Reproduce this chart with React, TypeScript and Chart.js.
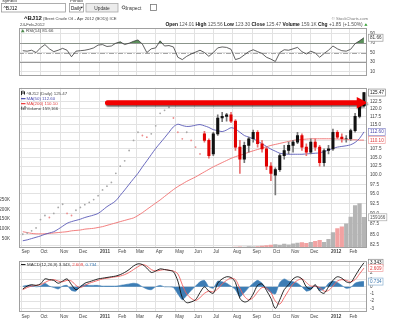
import React, { useEffect, useRef } from "react";
import { Chart, registerables } from "chart.js";
Chart.register(...registerables);

// ---------------- DATA ----------------
const AXIS_START = "2010-09-01";
const FIRST_WEEK = "2010-09-03";
const CANDLE_START_WEEK = 41;

const MONTH_TICKS: [string, string][] = [
  ["2010-09-01", "Sep"], ["2010-10-01", "Oct"], ["2010-11-01", "Nov"], ["2010-12-01", "Dec"],
  ["2011-01-03", "2011"], ["2011-02-01", "Feb"], ["2011-03-01", "Mar"], ["2011-04-01", "Apr"],
  ["2011-05-02", "May"], ["2011-06-01", "Jun"], ["2011-07-01", "Jul"], ["2011-08-01", "Aug"],
  ["2011-09-01", "Sep"], ["2011-10-03", "Oct"], ["2011-11-01", "Nov"], ["2011-12-01", "Dec"],
  ["2012-01-03", "2012"], ["2012-02-01", "Feb"],
];

// thinly traded period: weekly closes (dots)
const EARLY_CLOSE = [
  85.0, 85.3, 85.8, 86.5, 88.5, 89.5, 89.0, 90.0, 91.5, 92.3,
  90.0, 89.5, 90.8, 91.5, 92.2, 92.8, 93.5, 94.5, 96.0, 97.0,
  98.0, 100.5, 102.5, 104.0, 107.0, 110.0, 112.5, 111.5, 111.0, 112.0,
  114.5, 118.5, 119.5, 120.5, 117.0, 112.5, 110.5, 112.5, 110.0, 108.0, 106.0,
];

// weekly candles from week 41 on
const CANDLE_OPEN = [112, 110, 106, 112, 117, 117.5, 118, 116, 108, 104.5, 108.5, 110.5, 112.5, 109, 107.5, 102.5, 100, 101.5, 105.5, 107, 108.5, 109.5, 111.5, 108, 106.5, 109.5, 108, 103.5, 107, 107.5, 112.5, 111, 110.5, 110.5, 113, 117.5, 121];
const CANDLE_HIGH = [112.8, 110.5, 112.5, 118, 118.8, 118.5, 118.8, 116.5, 110, 109.5, 111, 113.2, 113, 110, 108, 103.5, 102, 106, 108.5, 109.5, 110, 112.5, 112, 109, 110.5, 110.5, 108.5, 107.5, 108.5, 113.5, 113, 112, 111.5, 113.5, 118.5, 121.5, 125.56];
const CANDLE_LOW = [109.5, 104.8, 105.5, 111.5, 115.8, 116, 115.5, 107, 100.5, 103.5, 106.5, 109.5, 108, 106.5, 101.5, 98.5, 94.7, 101, 104.5, 106, 106.5, 109, 107, 105.5, 106, 107, 102.5, 102.5, 106, 107, 110.5, 109.5, 109.5, 110, 112.5, 117, 120.5];
const CANDLE_CLOSE = [110, 105.5, 112, 117, 117.5, 118, 116, 108, 104.5, 108.5, 110.5, 112.5, 109, 107.5, 102.5, 100.5, 101.5, 105.5, 107, 108.5, 109.5, 111.5, 108, 106.5, 109.5, 108, 103.5, 107, 107.5, 112.5, 111, 110.5, 110.5, 113, 117.5, 121, 125.47];

// volume in thousands
const VOLUME_K = [
  2, 1, 2, 1, 3, 2, 1, 2, 2, 1, 2, 3, 1, 2, 2, 1, 2, 2, 3, 1,
  2, 2, 1, 3, 2, 2, 1, 2, 3, 2, 2, 1, 2, 2, 3, 2, 1, 2, 2, 3, 2,
  2, 3, 3, 3, 4, 3, 4, 5, 6, 5, 7, 6, 8, 10, 12, 15, 18, 15, 20, 17,
  22, 25, 28, 24, 30, 35, 40, 30, 45, 80, 100, 110, 125, 160, 220, 230, 159.166,
];

const MA50 = [
  83.5, 83.7, 84.0, 84.3, 84.6, 85.0, 85.3, 85.6, 86.2, 86.9,
  87.6, 88.0, 88.3, 88.6, 89.0, 89.3, 89.6, 90.0, 90.8, 91.7,
  92.4, 93.2, 94.6, 96.0, 97.5, 99.0, 100.5, 102.3, 104.0, 105.8,
  107.6, 109.2, 110.8, 112.5, 114.2, 115.0, 114.6, 114.3, 114.4, 114.7,
  114.9, 114.5, 114.0, 113.3, 113.0, 112.7, 113.2, 113.9, 113.5, 112.5,
  111.5, 111.0, 110.5, 109.8, 109.0, 108.2, 107.4, 106.8, 106.2, 106.0,
  105.9, 105.9, 105.9, 105.9, 106.0, 106.1, 106.2, 106.3, 106.7, 107.1,
  107.6, 108.0, 108.2, 108.4, 108.7, 109.4, 110.6, 112.6,
];

const MA200 = [
  85.6, 85.4, 85.2, 85.1, 85.1, 85.1, 85.2, 85.3, 85.4, 85.5,
  85.6, 85.8, 85.9, 86.0, 86.2, 86.3, 86.4, 86.6, 86.8, 87.1,
  87.4, 87.7, 88.0, 88.3, 88.6, 88.9, 89.5, 90.2, 91.0, 91.8,
  92.6, 93.4, 94.3, 95.2, 96.1, 96.9, 97.6, 98.3, 98.9, 99.5,
  100.2, 100.9, 101.6, 102.3, 102.9, 103.5, 104.1, 104.7, 105.2, 105.6,
  106.0, 106.5, 106.9, 107.3, 107.7, 108.1, 108.5, 108.8, 109.1, 109.4,
  109.7, 110.0, 110.2, 110.3, 110.4, 110.5, 110.5, 110.5, 110.5, 110.5,
  110.5, 110.4, 110.4, 110.3, 110.2, 110.2, 110.1, 110.1,
];

const RSI = [
  54, 53, 55, 50, 60, 67, 58, 52, 55, 59,
  55, 41, 53, 54, 55, 57, 60, 66, 67, 63,
  64, 70, 73, 67, 70, 74, 77, 68, 50, 58,
  60, 75, 64, 65, 62, 40, 35, 42, 47, 51,
  55, 50, 42, 50, 60, 62, 61, 57, 35, 38,
  45, 52, 56, 52, 48, 40, 36, 31, 50, 56,
  55, 58, 61, 52, 47, 53, 49, 40, 48, 55,
  64, 58, 54, 53, 57, 69, 75, 81.66,
];

const MACD = [
  -0.3, 0.1, 0.3, 0.2, 0.4, 1.1, 1.0, 0.9, 0.5, 0.8,
  1.1, 0.3, -0.4, 0.0, 0.5, 0.7, 0.9, 1.1, 1.2, 1.3,
  1.4, 1.5, 1.7, 2.0, 2.4, 2.9, 3.2, 3.1, 2.6, 2.0,
  2.2, 2.5, 2.4, 2.3, 2.1, 0.8, -1.5, -2.2, -2.1, -1.8,
  -0.8, 0.0, -0.6, -0.9, 0.5, 1.1, 1.4, 1.3, 0.6, -1.6,
  -2.1, -1.9, -1.0, 0.2, 0.4, -0.5, -1.6, -3.0, -1.8, -0.4,
  0.3, 1.1, 1.4, 1.1, 0.0, -0.3, 0.3, -0.6, -0.9, 0.0,
  0.9, 1.4, 1.2, 0.7, 0.6, 1.5, 2.5, 3.343,
];

const SIGNAL = [
  -0.4, -0.1, 0.1, 0.2, 0.3, 0.6, 0.9, 1.0, 0.8, 0.7,
  0.9, 0.8, 0.2, -0.1, 0.2, 0.5, 0.7, 0.9, 1.1, 1.2,
  1.3, 1.4, 1.5, 1.7, 2.0, 2.4, 2.8, 3.1, 2.9, 2.4,
  2.2, 2.3, 2.4, 2.3, 2.2, 1.8, 0.3, -1.0, -1.6, -1.9,
  -1.5, -0.9, -0.6, -0.7, -0.3, 0.4, 0.9, 1.2, 1.0, -0.2,
  -1.3, -1.8, -1.5, -0.7, -0.1, -0.2, -0.8, -2.0, -2.4, -1.5,
  -0.5, 0.4, 0.9, 1.1, 0.6, 0.1, 0.1, -0.1, -0.6, -0.5,
  0.1, 0.8, 1.0, 0.9, 0.7, 1.0, 1.8, 2.609,
];

const HIST = [
  0.1, 0.2, 0.2, 0.0, 0.1, 0.5, 0.1, -0.1, -0.3, 0.1,
  0.2, -0.5, -0.6, 0.1, 0.3, 0.2, 0.2, 0.2, 0.1, 0.1,
  0.1, 0.1, 0.2, 0.3, 0.4, 0.5, 0.4, 0.0, -0.3, -0.4,
  0.0, 0.2, 0.0, 0.0, -0.1, -1.0, -1.8, -1.2, -0.5, 0.1,
  0.7, 0.9, 0.0, -0.2, 0.8, 0.7, 0.5, 0.1, -0.4, -1.4,
  -0.8, -0.1, 0.5, 0.9, 0.5, -0.3, -0.8, -1.0, 0.6, 1.1,
  0.8, 0.7, 0.5, 0.0, -0.6, -0.4, 0.2, -0.5, -0.3, 0.5,
  0.8, 0.6, 0.2, -0.2, -0.1, 0.5, 0.7, 0.734,
];

const PRICE_TICKS = [82.5, 85, 87.5, 90, 92.5, 95, 97.5, 100, 102.5, 105, 107.5, 110, 112.5, 115, 117.5, 120, 122.5];
const VOLUME_TICKS = [50000, 100000, 150000, 200000, 250000];
const RSI_TICKS = [10, 30, 50, 70, 90];
const MACD_TICKS = [-3, -2, -1, 0, 1, 2, 3];

const ARROW_FROM = "2011-01-11";
const ARROW_TO = "2012-03-01";
const ARROW_PRICE = 122.0;

const LAST_CLOSE = 125.47;
const LAST_MA50 = 112.6;
const LAST_MA200 = 110.1;
const LAST_VOLUME = 159166;
const LAST_RSI = 81.66;
const LAST_MACD = 3.343;
const LAST_SIGNAL = 2.609;
const LAST_HIST = 0.734;

const QUOTE: [string, boolean][] = [
  ["Open ", true], ["124.01 ", false], ["High ", true], ["125.56 ", false],
  ["Low ", true], ["123.30 ", false], ["Close ", true], ["125.47 ", false],
  ["Volume ", true], ["159.1K ", false], ["Chg ", true], ["+1.85 (+1.50%) ", false],
];

// ---------------- HELPERS ----------------
const FONT = "'Liberation Sans', Arial, sans-serif";
const font = (size: number, bold = false) => `${bold ? "bold " : ""}${size}px ${FONT}`;
const DAY = 86400000;
const dayOf = (s: string) => (Date.parse(s) - Date.parse(AXIS_START)) / DAY;
const weekX = (i: number) => dayOf(FIRST_WEEK) + 7 * i;
const X_MIN = -3.95;
const X_MAX = 545.8;
const TICK_COLOR = "#444";
const GRID = "#e2e2e2";

function xScale(showLabels: boolean, height: number, pad: number) {
  return {
    type: "linear" as const,
    min: X_MIN,
    max: X_MAX,
    offset: false,
    afterBuildTicks: (s: any) => {
      s.ticks = MONTH_TICKS.map(([d]) => ({ value: dayOf(d) }));
    },
    afterFit: (s: any) => {
      s.height = height;
    },
    ticks: {
      display: showLabels,
      autoSkip: false,
      maxRotation: 0,
      align: "start" as const,
      padding: pad,
      color: TICK_COLOR,
      font: (ctx: any) => ({
        family: FONT,
        size: 4.6,
        weight: (MONTH_TICKS[ctx.index] && MONTH_TICKS[ctx.index][1].length === 4) ? "bold" : "normal",
      }),
      callback: (_v: any, i: number) => (MONTH_TICKS[i] ? MONTH_TICKS[i][1] : ""),
    },
    grid: { color: GRID, drawTicks: false, offset: false, lineWidth: 1 },
    border: { display: false },
  };
}

function rightAxis(min: number, max: number, ticks: number[], fmt: (v: number) => string, type = "linear", grid = true) {
  return {
    type,
    position: "right" as const,
    min,
    max,
    afterBuildTicks: (s: any) => {
      s.ticks = ticks.map((v) => ({ value: v }));
    },
    afterFit: (s: any) => {
      s.width = 33;
    },
    ticks: {
      autoSkip: false,
      padding: 3,
      color: TICK_COLOR,
      font: { family: FONT, size: 4.6 },
      callback: (v: any) => fmt(Number(v)),
    },
    grid: { display: grid, color: GRID, drawTicks: false },
    border: { display: false },
  };
}

const framePlugin = {
  id: "frame",
  afterDraw(chart: any) {
    const { left, top, right, bottom } = chart.chartArea;
    const ctx = chart.ctx;
    ctx.save();
    ctx.strokeStyle = "#a0a0a0";
    ctx.lineWidth = 1;
    ctx.strokeRect(Math.round(left) + 0.5, Math.round(top) + 0.5, Math.round(right - left) - 1, Math.round(bottom - top) - 1);
    ctx.restore();
  },
};

type BoxItem = { axis: string; value: number; text: string; color: string; border: string };
function boxPlugin(items: BoxItem[]) {
  return {
    id: "boxes",
    afterDraw(chart: any) {
      const ctx = chart.ctx;
      const x = chart.chartArea.right + 1.5;
      ctx.save();
      ctx.font = font(4.6);
      items.forEach((it) => {
        const y = chart.scales[it.axis].getPixelForValue(it.value);
        const w = ctx.measureText(it.text).width + 3;
        ctx.fillStyle = "#fff";
        ctx.fillRect(x, y - 3.5, w, 7);
        ctx.strokeStyle = it.border;
        ctx.lineWidth = 0.7;
        ctx.strokeRect(x, y - 3.5, w, 7);
        ctx.fillStyle = it.color;
        ctx.textBaseline = "middle";
        ctx.fillText(it.text, x + 1.5, y + 0.3);
      });
      ctx.restore();
    },
  };
}

function text(ctx: any, s: string, x: number, y: number, size: number, color = "#222", bold = false, align = "left") {
  ctx.font = font(size, bold);
  ctx.fillStyle = color;
  ctx.textAlign = align;
  ctx.textBaseline = "alphabetic";
  ctx.fillText(s, x, y);
  return ctx.measureText(s).width;
}

const headerPlugin = {
  id: "header",
  afterDraw(chart: any) {
    const ctx = chart.ctx;
    ctx.save();
    // toolbar
    text(ctx, "Symbol", 2, 2.2, 4.4, "#333");
    text(ctx, "Period", 70, 2.2, 4.4, "#333");
    ctx.fillStyle = "#fff";
    ctx.strokeStyle = "#9a9a9a";
    ctx.lineWidth = 0.8;
    ctx.strokeRect(1.5, 3.5, 64, 8.5);
    text(ctx, "^BJ12", 3.5, 9.8, 5, "#111");
    ctx.strokeRect(69.5, 3.5, 14, 8.5);
    text(ctx, "Daily", 71, 9.8, 4.6, "#111");
    ctx.beginPath();
    ctx.moveTo(80.3, 6.8); ctx.lineTo(83, 6.8); ctx.lineTo(81.65, 8.6); ctx.closePath();
    ctx.fillStyle = "#222"; ctx.fill();
    ctx.fillStyle = "#ececec";
    ctx.fillRect(86, 3.5, 32, 8.5);
    ctx.strokeStyle = "#a8a8a8";
    ctx.strokeRect(86, 3.5, 32, 8.5);
    text(ctx, "Update", 102, 9.6, 4.8, "#333", false, "center");
    ctx.beginPath();
    ctx.strokeStyle = "#333"; ctx.lineWidth = 0.7;
    ctx.arc(123.6, 7.3, 1.5, 0, Math.PI * 2); ctx.moveTo(124.7, 8.4); ctx.lineTo(125.8, 9.6); ctx.stroke();
    text(ctx, "Inspect", 125.8, 9.6, 4.8, "#333");
    ctx.strokeStyle = "#777"; ctx.lineWidth = 0.8;
    ctx.fillStyle = "#fff";
    ctx.fillRect(150.5, 4.5, 6, 6);
    ctx.strokeRect(150.5, 4.5, 6, 6);

    // title
    let x = 24;
    x += text(ctx, "^BJ12", x, 20, 6, "#111", true);
    text(ctx, " (Brent Crude Oil - Apr 2012 (BOD)) ICE", x, 20, 4.2, "#444");
    text(ctx, "24-Feb-2012", 20, 25.8, 4.3, "#444");
    text(ctx, "\u00A9 StockCharts.com", 368, 19.5, 4.2, "#777", false, "right");
    // quote line, right aligned
    let total = 0;
    QUOTE.forEach(([s, b]) => { ctx.font = font(4.9, b); total += ctx.measureText(s).width; });
    total += 4;
    let qx = 368 - total;
    QUOTE.forEach(([s, b]) => { qx += text(ctx, s, qx, 26, 4.9, b ? "#111" : "#555", b); });
    ctx.beginPath();
    ctx.moveTo(qx + 0.3, 25.8); ctx.lineTo(qx + 3.5, 25.8); ctx.lineTo(qx + 1.9, 23.2); ctx.closePath();
    ctx.fillStyle = "#2a9a2a"; ctx.fill();

    // RSI legend
    ctx.beginPath();
    ctx.moveTo(21, 32.2); ctx.lineTo(24.6, 32.2); ctx.lineTo(22.8, 29); ctx.closePath();
    ctx.fillStyle = "#4c8a4c"; ctx.fill();
    text(ctx, `RSI(14) ${LAST_RSI.toFixed(2)}`, 26, 32.3, 4.4, "#444");
    ctx.restore();
  },
};

const rsiLinesPlugin = {
  id: "rsiLines",
  beforeDatasetsDraw(chart: any) {
    const ctx = chart.ctx;
    const { left, right } = chart.chartArea;
    const ys = chart.scales.y;
    ctx.save();
    ctx.strokeStyle = "#8f8f8f";
    ctx.lineWidth = 0.9;
    [30, 70].forEach((v) => {
      const y = Math.round(ys.getPixelForValue(v)) + 0.5;
      ctx.beginPath(); ctx.moveTo(left, y); ctx.lineTo(right, y); ctx.stroke();
    });
    ctx.setLineDash([5, 1.5, 1, 1.5]);
    ctx.strokeStyle = "#9a9a9a";
    const y50 = Math.round(ys.getPixelForValue(50)) + 0.5;
    ctx.beginPath(); ctx.moveTo(left, y50); ctx.lineTo(right, y50); ctx.stroke();
    ctx.restore();
  },
};

const priceOverlayPlugin = {
  id: "priceOverlay",
  afterDatasetsDraw(chart: any) {
    const ctx = chart.ctx;
    const xs = chart.scales.x;
    const ys = chart.scales.y;
    // arrow
    const x1 = xs.getPixelForValue(dayOf(ARROW_FROM));
    const x2 = xs.getPixelForValue(dayOf(ARROW_TO));
    const y = ys.getPixelForValue(ARROW_PRICE);
    ctx.save();
    ctx.shadowColor = "rgba(0,0,0,0.6)";
    ctx.shadowOffsetX = 1;
    ctx.shadowOffsetY = 1.5;
    ctx.shadowBlur = 1.5;
    ctx.fillStyle = "#f20000";
    ctx.beginPath();
    ctx.moveTo(x1 + 2.5, y - 2.6);
    ctx.lineTo(x2 - 11, y - 2.6);
    ctx.lineTo(x2 - 11, y - 5.8);
    ctx.lineTo(x2, y);
    ctx.lineTo(x2 - 11, y + 5.8);
    ctx.lineTo(x2 - 11, y + 2.6);
    ctx.lineTo(x1 + 2.5, y + 2.6);
    ctx.arc(x1 + 2.5, y, 2.6, Math.PI / 2, Math.PI * 1.5);
    ctx.closePath();
    ctx.fill();
    ctx.restore();

    // legend
    ctx.save();
    const lx = 21;
    const top = chart.chartArea.top;
    ctx.fillStyle = "#222";
    ctx.fillRect(lx, top + 3.3, 1, 4);
    ctx.fillRect(lx + 1.5, top + 2.8, 1, 3.5);
    ctx.fillRect(lx + 3, top + 3.6, 1, 3.2);
    text(ctx, "^BJ12 (Daily) 125.47", lx + 5.5, top + 6.9, 4.4, "#444");
    ctx.fillStyle = "#4a4ab0";
    ctx.fillRect(lx, top + 10.3, 4.5, 1.2);
    text(ctx, `MA(50) ${LAST_MA50.toFixed(2)}`, lx + 5.5, top + 11.9, 4.4, "#4a4ab0");
    ctx.fillStyle = "#ee3333";
    ctx.fillRect(lx, top + 15.3, 4.5, 1.2);
    text(ctx, `MA(200) ${LAST_MA200.toFixed(2)}`, lx + 5.5, top + 16.9, 4.4, "#e03a3a");
    ctx.fillStyle = "#666";
    ctx.fillRect(lx, top + 18.8, 1.2, 3.2);
    ctx.fillRect(lx + 1.7, top + 19.8, 1.2, 2.2);
    ctx.fillRect(lx + 3.4, top + 18.3, 1.2, 3.7);
    text(ctx, "Volume 159,166", lx + 5.5, top + 21.9, 4.4, "#444");
    ctx.restore();
  },
};

const macdLegendPlugin = {
  id: "macdLegend",
  afterDatasetsDraw(chart: any) {
    const ctx = chart.ctx;
    const top = chart.chartArea.top;
    ctx.save();
    ctx.fillStyle = "#111";
    ctx.fillRect(21, top + 3.3, 4.5, 1);
    let x = 27;
    x += text(ctx, `MACD(12,26,9) ${LAST_MACD.toFixed(3)}, `, x, top + 5.2, 4.4, "#333");
    x += text(ctx, `${LAST_SIGNAL.toFixed(3)}, `, x, top + 5.2, 4.4, "#ee4444");
    text(ctx, `${LAST_HIST.toFixed(3)}`, x, top + 5.2, 4.4, "#3a78b0");
    ctx.restore();
  },
};

const baseOptions = (padding: any) => ({
  responsive: false,
  animation: false as const,
  devicePixelRatio: 1,
  events: [] as any[],
  layout: { padding },
  plugins: { legend: { display: false }, tooltip: { enabled: false } },
});

function makeTop(canvas: HTMLCanvasElement) {
  return new Chart(canvas, {
    type: "line",
    data: {
      datasets: [
        {
          data: RSI.map((v, i) => ({ x: weekX(i), y: v })),
          borderColor: "#3a3a3a",
          borderWidth: 0.8,
          pointRadius: 0,
          tension: 0,
          fill: { target: { value: 70 }, above: "#5b8f5b", below: "rgba(0,0,0,0)" },
        } as any,
      ],
    },
    options: {
      ...baseOptions({ top: 28, left: 19, right: 0, bottom: 0 }),
      scales: {
        x: xScale(false, 0, 0),
        y: rightAxis(-0.5, 102.4, RSI_TICKS, (v) => String(v)),
      },
    } as any,
    plugins: [
      headerPlugin,
      rsiLinesPlugin,
      framePlugin,
      boxPlugin([{ axis: "y", value: LAST_RSI, text: LAST_RSI.toFixed(2), color: "#333", border: "#999" }]),
    ],
  });
}

function makePrice(canvas: HTMLCanvasElement) {
  const candles = CANDLE_OPEN.map((o, k) => ({
    x: weekX(CANDLE_START_WEEK + k),
    o,
    h: CANDLE_HIGH[k],
    l: CANDLE_LOW[k],
    c: CANDLE_CLOSE[k],
  }));
  const volumeUp = VOLUME_K.map((_, i) => {
    if (i < CANDLE_START_WEEK) return i === 0 || EARLY_CLOSE[i] >= EARLY_CLOSE[i - 1];
    const k = i - CANDLE_START_WEEK;
    return CANDLE_CLOSE[k] >= CANDLE_OPEN[k];
  });
  return new Chart(canvas, {
    type: "bar",
    data: {
      datasets: [
        {
          type: "line",
          data: EARLY_CLOSE.map((v, i) => ({ x: weekX(i), y: v })),
          showLine: false,
          pointRadius: 0.9,
          pointBorderWidth: 0,
          pointBackgroundColor: EARLY_CLOSE.map((v, i) => (i === 0 || v >= EARLY_CLOSE[i - 1] ? "#a8a8a8" : "#ec8c8c")),
          yAxisID: "y",
          order: 1,
        },
        {
          type: "bar",
          data: candles.map((c) => ({ x: c.x, y: [c.o, c.c] })),
          backgroundColor: candles.map((c) => (c.c >= c.o ? "#111" : "#e00000")),
          barThickness: 2.4,
          grouped: false,
          borderWidth: 0,
          yAxisID: "y",
          order: 2,
        },
        {
          type: "bar",
          data: candles.map((c) => ({ x: c.x, y: [c.l, c.h] })),
          backgroundColor: candles.map((c) => (c.c >= c.o ? "#777" : "#e87070")),
          barThickness: 1,
          grouped: false,
          borderWidth: 0,
          yAxisID: "y",
          order: 3,
        },
        {
          type: "line",
          data: MA50.map((v, i) => ({ x: weekX(i), y: v })),
          borderColor: "#5a5ab8",
          borderWidth: 0.9,
          pointRadius: 0,
          tension: 0.3,
          yAxisID: "y",
          order: 4,
        },
        {
          type: "line",
          data: MA200.map((v, i) => ({ x: weekX(i), y: v })),
          borderColor: "#f07070",
          borderWidth: 0.9,
          pointRadius: 0,
          tension: 0.3,
          yAxisID: "y",
          order: 5,
        },
        {
          type: "bar",
          data: VOLUME_K.map((v, i) => ({ x: weekX(i), y: v * 1000 })),
          backgroundColor: volumeUp.map((u) => (u ? "#b4b4b4" : "#f2a2a2")),
          barThickness: 3.6,
          grouped: false,
          borderWidth: 0,
          yAxisID: "yVol",
          order: 10,
        },
      ] as any,
    },
    options: {
      ...baseOptions({ top: 0, left: 0, right: 0, bottom: 0 }),
      scales: {
        x: xScale(true, 7, 0.5),
        y: rightAxis(81.85, 127.13, PRICE_TICKS, (v) => v.toFixed(1), "logarithmic"),
        yVol: {
          type: "linear",
          position: "left",
          min: 0,
          max: 830000,
          afterBuildTicks: (s: any) => {
            s.ticks = VOLUME_TICKS.map((v) => ({ value: v }));
          },
          afterFit: (s: any) => {
            s.width = 19;
          },
          ticks: {
            autoSkip: false,
            padding: 1,
            color: TICK_COLOR,
            font: { family: FONT, size: 4.6 },
            callback: (v: any) => `${Number(v) / 1000}K`,
          },
          grid: { display: false },
          border: { display: false },
        },
      },
    } as any,
    plugins: [
      priceOverlayPlugin,
      framePlugin,
      boxPlugin([
        { axis: "y", value: LAST_CLOSE, text: LAST_CLOSE.toFixed(2), color: "#222", border: "#888" },
        { axis: "y", value: LAST_MA50, text: LAST_MA50.toFixed(2), color: "#4a4ab0", border: "#8a8ac8" },
        { axis: "y", value: LAST_MA200, text: LAST_MA200.toFixed(2), color: "#e03a3a", border: "#f0a0a0" },
        { axis: "yVol", value: LAST_VOLUME, text: "159166", color: "#555", border: "#aaa" },
      ]),
    ],
  });
}

function makeMacd(canvas: HTMLCanvasElement) {
  return new Chart(canvas, {
    type: "line",
    data: {
      datasets: [
        {
          data: HIST.map((v, i) => ({ x: weekX(i), y: v })),
          borderColor: "#3d7db5",
          backgroundColor: "#3d7db5",
          borderWidth: 0.6,
          pointRadius: 0,
          tension: 0.2,
          fill: "origin",
          order: 3,
        },
        {
          data: SIGNAL.map((v, i) => ({ x: weekX(i), y: v })),
          borderColor: "#f06060",
          borderWidth: 0.9,
          pointRadius: 0,
          tension: 0.3,
          order: 2,
        },
        {
          data: MACD.map((v, i) => ({ x: weekX(i), y: v })),
          borderColor: "#111",
          borderWidth: 0.9,
          pointRadius: 0,
          tension: 0.3,
          order: 1,
        },
      ] as any,
    },
    options: {
      ...baseOptions({ top: 0, left: 19, right: 0, bottom: 0 }),
      scales: {
        x: xScale(true, 12, 1.5),
        y: rightAxis(-3.5, 3.625, MACD_TICKS, (v) => String(v)),
      },
    } as any,
    plugins: [
      macdLegendPlugin,
      framePlugin,
      boxPlugin([
        { axis: "y", value: LAST_MACD, text: LAST_MACD.toFixed(3), color: "#222", border: "#888" },
        { axis: "y", value: LAST_SIGNAL, text: LAST_SIGNAL.toFixed(3), color: "#e03a3a", border: "#f0a0a0" },
        { axis: "y", value: LAST_HIST, text: LAST_HIST.toFixed(3), color: "#3a78b0", border: "#8ab0d0" },
      ]),
    ],
  });
}

export default function App() {
  const r1 = useRef<HTMLCanvasElement>(null);
  const r2 = useRef<HTMLCanvasElement>(null);
  const r3 = useRef<HTMLCanvasElement>(null);
  useEffect(() => {
    const charts = [makeTop(r1.current!), makePrice(r2.current!), makeMacd(r3.current!)];
    return () => charts.forEach((c) => c.destroy());
  }, []);
  const cs = (top: number, h: number) => ({ position: "absolute" as const, left: 0, top, width: 400, height: h, display: "block" });
  return (
    <div style={{ position: "fixed", left: 0, top: 0, width: 400, height: 324, background: "#fff", overflow: "hidden" }}>
      <canvas ref={r1} width={400} height={82} style={cs(0, 82)} />
      <canvas ref={r2} width={400} height={173} style={cs(82, 173)} />
      <canvas ref={r3} width={400} height={69} style={cs(255, 69)} />
    </div>
  );
}
